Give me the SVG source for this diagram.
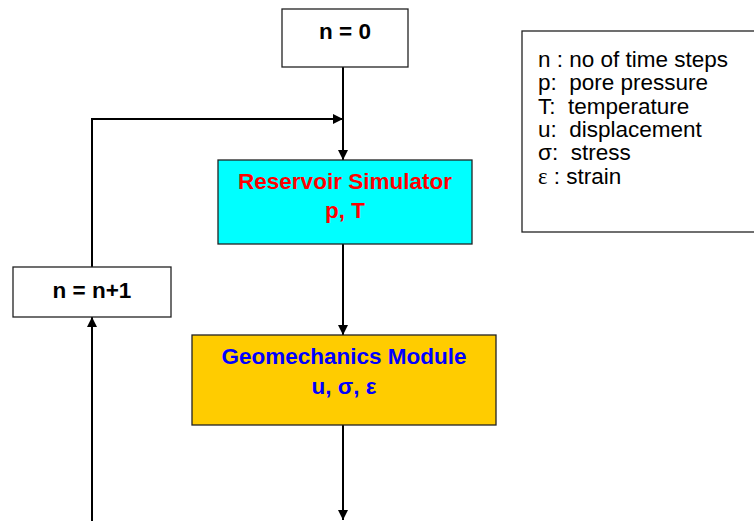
<svg xmlns="http://www.w3.org/2000/svg" width="754" height="521" viewBox="0 0 754 521">
<defs>
<marker id="ah" viewBox="0 0 10 10" refX="10" refY="5" markerWidth="10" markerHeight="10" markerUnits="userSpaceOnUse" orient="auto">
<path d="M0,0 L10,5 L0,10 z" fill="#000"/>
</marker>
</defs>
<style>
.box{stroke:#222;stroke-width:1.3}
.lbl{font-family:"Liberation Sans",Arial,sans-serif;font-weight:bold;font-size:22.5px;text-anchor:middle}
.leg{font-family:"Liberation Sans",Arial,sans-serif;font-size:22.5px;white-space:pre}
.con{stroke:#000;stroke-width:2;fill:none}
.ser{font-family:"Liberation Serif","Times New Roman",serif}
</style>
<rect width="754" height="521" fill="#fff"/>
<g id="connectors">
<line class="con" x1="343" y1="67" x2="343" y2="160" marker-end="url(#ah)"/>
<polyline class="con" points="92,267 92,119 343,119" marker-end="url(#ah)"/>
<line class="con" x1="343" y1="244" x2="343" y2="335" marker-end="url(#ah)"/>
<line class="con" x1="343" y1="425" x2="343" y2="520" marker-end="url(#ah)"/>
<line class="con" x1="92" y1="521" x2="92" y2="317" marker-end="url(#ah)"/>
</g>
<g id="n0">
<rect class="box" x="282" y="9" width="126" height="58" fill="#fff"/>
<text class="lbl" x="345" y="39">n = 0</text>
</g>
<g id="reservoir">
<rect class="box" x="218" y="160" width="254" height="84" fill="#00ffff"/>
<text class="lbl" x="345" y="189" fill="#ff0000">Reservoir Simulator</text>
<text class="lbl" x="345" y="218" fill="#ff0000">p, T</text>
</g>
<g id="increment">
<rect class="box" x="13" y="267" width="158" height="50" fill="#fff"/>
<text class="lbl" x="92" y="298">n = n+1</text>
</g>
<g id="geomechanics">
<rect class="box" x="192" y="335" width="304" height="90" fill="#ffcc00"/>
<text class="lbl" x="344" y="364" fill="#0000ff">Geomechanics Module</text>
<text class="lbl" x="344" y="394" fill="#0000ff">u, σ, ε</text>
</g>
<g id="legend">
<rect class="box" x="522" y="31" width="240" height="201" fill="#fff"/>
<text class="leg" x="538" y="67">n : no of time steps</text>
<text class="leg" x="538" y="90">p:  pore pressure</text>
<text class="leg" x="538" y="114">T:  temperature</text>
<text class="leg" x="538" y="137">u:  displacement</text>
<text class="leg" x="538" y="160">σ:  stress</text>
<text class="leg" x="538" y="184"><tspan class="ser">ε</tspan> : strain</text>
</g>
</svg>
